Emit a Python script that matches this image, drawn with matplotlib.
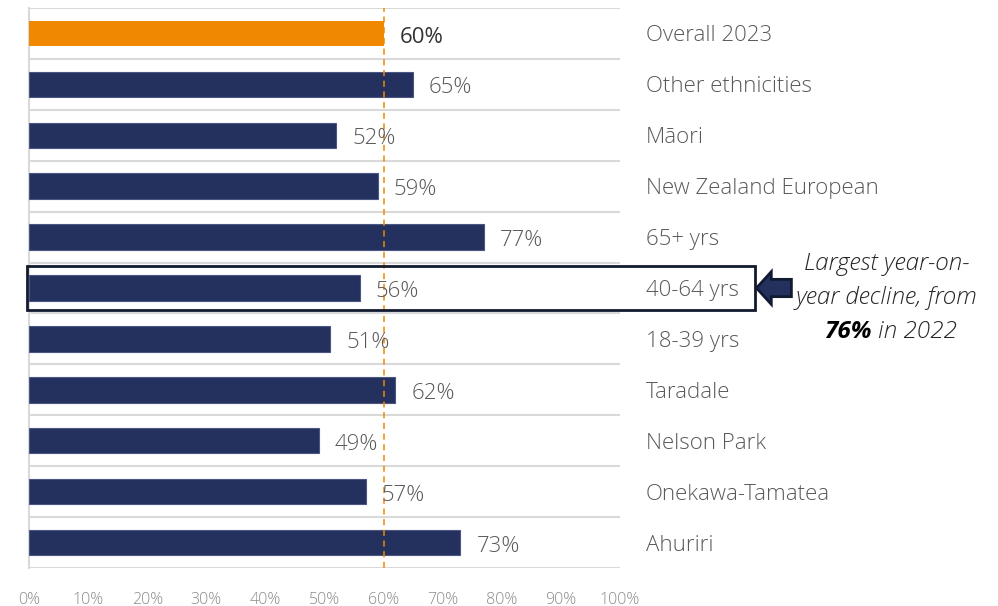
import matplotlib.pyplot as plt
from matplotlib.patches import Rectangle, Polygon

categories = ['Overall 2023', 'Other ethnicities', 'Māori', 'New Zealand European',
              '65+ yrs', '40-64 yrs', '18-39 yrs', 'Taradale', 'Nelson Park',
              'Onekawa-Tamatea', 'Ahuriri']
values = [60, 65, 52, 59, 77, 56, 51, 62, 49, 57, 73]
overall = 60
highlight = '40-64 yrs'
ticks = [0, 10, 20, 30, 40, 50, 60, 70, 80, 90, 100]

plt.rcParams['font.family'] = ['Open Sans', 'DejaVu Sans']

NAVY = '#24305e'
ORANGE = '#f08800'
GRID = '#d9d9d9'

fig = plt.figure(figsize=(9.98, 6.06), dpi=100)
ax = fig.add_axes([29 / 998, 1 - 568 / 606, 591 / 998, 560 / 606])

ypos = list(range(len(categories)))
colors = [ORANGE if i == 0 else NAVY for i in ypos]
ax.barh(ypos, values, height=0.5, color=colors,
        edgecolor=['none'] + ['#4a5785'] * (len(ypos) - 1), linewidth=0.8, zorder=3)

ax.set_xlim(0, 100)
ax.set_ylim(len(categories) - 0.5, -0.5)

# row separators
for i in range(len(categories) + 1):
    ax.axhline(i - 0.5, color=GRID, lw=1.5, zorder=1)
ax.axvline(overall, color=ORANGE, lw=1.1, ls=(0, (4, 3)), zorder=4)

for i, (cat, v) in enumerate(zip(categories, values)):
    ax.annotate(f'{v}%', xy=(v, i + 0.07), xytext=(11.5, 0), textcoords='offset points',
                va='center', ha='left', fontsize=16,
                fontweight='normal' if i == 0 else 'light',
                color='#333333' if i == 0 else '#595959', zorder=5)
    ax.text(104.4, i + 0.05, cat, va='center', ha='left', fontsize=16, fontweight='light',
            color='#595959', clip_on=False)

for s in ['top', 'right', 'bottom']:
    ax.spines[s].set_visible(False)
ax.spines['left'].set_color(GRID)
ax.spines['left'].set_linewidth(1.5)
ax.set_yticks([])
ax.set_xticks(ticks)
ax.set_xticklabels([f'{t}%' for t in ticks], fontsize=11.5, color='#8a8a8a',
                   fontweight='light')
ax.tick_params(axis='x', length=0, pad=17)

# highlight box + arrow + note
hy = categories.index(highlight)
ax.add_patch(Rectangle((-0.3, hy - 0.43), 123.2, 0.86, fill=False,
                       edgecolor='#111a2e', lw=2, clip_on=False, zorder=6))
arrow = [(123.1, hy), (125.6, hy - 0.32), (125.6, hy - 0.17), (129.0, hy - 0.17),
         (129.0, hy + 0.17), (125.6, hy + 0.17), (125.6, hy + 0.32)]
ax.add_patch(Polygon(arrow, closed=True, facecolor=NAVY, edgecolor='#111a2e',
                     lw=2, joinstyle='miter', clip_on=False, zorder=6))
note = dict(fontsize=17.5, style='italic', fontweight='light', color='#262626',
            clip_on=False)
ax.text(145.1, hy - 0.47, 'Largest year-on-', ha='center', va='center', **note)
ax.text(145.1, hy + 0.2, 'year decline, from', ha='center', va='center', **note)
ax.text(142.6, hy + 0.86, '76%', ha='right', va='center', fontsize=17.5,
        style='italic', weight='bold', color='black', clip_on=False)
ax.text(143.7, hy + 0.86, 'in 2022', ha='left', va='center', **note)

fig.savefig('out.png', dpi=100)
